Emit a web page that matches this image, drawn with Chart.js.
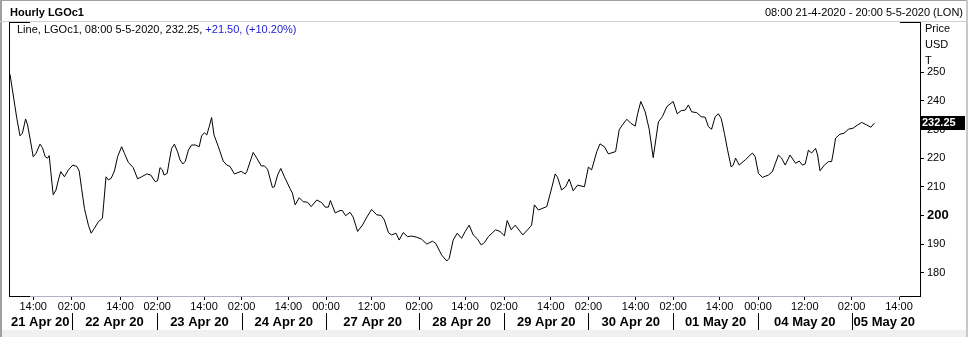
<!DOCTYPE html>
<html>
<head>
<meta charset="utf-8">
<title>Hourly LGOc1</title>
<script src="https://cdn.jsdelivr.net/npm/chart.js@4.4.1/dist/chart.umd.min.js"></script>
<style>
  html, body { margin: 0; padding: 0; background: #fff; }
  #wrap { width: 968px; height: 337px; position: relative; }
</style>
</head>
<body>
<div id="wrap"><canvas id="lgoChart"></canvas></div>
<script>
// hourly bar index (0 = 08:00 21-4-2020) and close price
const barIdx = [
  0, 0.8, 1.7, 2.5, 3.1, 3.9, 4.4, 5.3, 5.8, 6.5,
  7.5, 8.1, 8.8, 9.4, 9.8, 10.2, 10.8, 11.5, 12.1, 12.7,
  13.6, 14.6, 15.7, 16.7, 17.3, 17.9, 18.6, 19.6, 20.3, 21.1,
  22.1, 23.1, 23.4, 24, 24.6, 25.3, 26.1, 26.9, 27.9, 28.6,
  29.6, 30.8, 31.9, 32.9, 34.2, 35.2, 36.3, 36.9, 37.5, 38.1,
  38.5, 39.3, 39.8, 40.4, 41.1, 41.9, 42.5, 43.2, 43.8, 44.6,
  45.4, 46.4, 47.3, 47.9, 48.6, 49.2, 49.8, 50.4, 51, 52.1,
  53.3, 54.2, 55,
  56.1, 57.8, 58.8, 59.2, 60.8, 61.7, 62.8, 63.6, 64.4, 65.6,
  66.1, 66.9, 67.7, 68.6, 70, 70.6, 71.3, 72.3, 73.3, 74.4,
  75.3, 76.7, 77.9, 78.8, 79.6, 80.1, 81.3, 82.5, 83.1, 83.9,
  85, 85.8, 86.9, 88.1, 89.2, 90.4, 91.7, 92.8, 93.6, 94.6,
  95.4, 96.5, 97.3, 98.3, 99.4, 100.4, 101.7, 102.9, 104.2, 105.6,
  106.4, 107.9, 109.2,
  109.8, 110.8, 111.8, 112.9, 113.8, 114.8, 115.8, 116.9, 117.8, 118.6,
  119.6, 121.4, 122.5, 123.6, 124.3, 125.3, 126.3, 128.2, 129.4, 130.4,
  131.1, 132.1, 134.2, 135.3, 136.3, 136.9, 137.9, 138.9, 139.8, 140.8,
  141.9, 143.6, 144.6, 145.4, 146.7, 147.5, 148.6, 149.6, 151.4, 152.3,
  153.1, 154.2, 155.2, 156.3, 156.9, 157.7, 158.8, 159.8, 160.8, 162.1,
  163.1, 164.2,
  165.8, 166.8, 167.8, 168.8, 169.6, 170.4, 171.7, 172.8, 173.8, 174.6,
  175.4, 176.3, 177.1, 177.8, 178.6, 179.4, 180.3, 180.8, 181.4, 182.3,
  183.8, 185.6, 186.3, 187.1, 188.1, 189.6, 190.6, 191.3, 192.1, 192.9,
  193.8, 195, 196.4, 197.3, 198.1, 198.8, 199.6, 200.4, 201.4, 201.9,
  202.5, 203.6, 204.6, 205.4, 205.8, 206.4, 207.5, 208.5, 209.6, 210.8,
  211.9, 212.9, 214.2, 215.2, 216.1
];
const price = [
  249.3, 242.1, 233.9, 227.8, 228.7, 233.7, 231.6, 224.6, 220.5, 221.7,
  224.9, 223.7, 220.5, 220.0, 220.9, 215.3, 207.2, 208.9, 212.4, 215.3,
  213.5, 215.9, 217.6, 217.1, 215.5, 209.4, 202.5, 196.6, 193.8, 195.5,
  197.8, 199.0, 203.7, 213.5, 212.4, 213.0, 215.5, 220.5, 224.0, 221.7,
  218.5, 216.7, 212.8, 213.5, 214.5, 214.1, 211.8, 212.1, 216.7, 215.9,
  214.1, 214.7, 218.8, 223.4, 224.9, 222.2, 219.4, 218.0, 218.8, 222.8,
  224.6, 224.6, 224.0, 227.8, 228.9, 228.1, 231.0, 234.2, 228.1, 224.0,
  219.0, 217.6, 217.1,
  214.5, 215.4, 214.5, 215.3, 222.0, 220.0, 217.3, 217.3, 216.1, 209.8,
  210.0, 214.1, 216.4, 213.5, 209.4, 207.8, 203.7, 206.2, 204.8, 204.6,
  203.1, 205.4, 204.5, 202.9, 202.9, 205.2, 200.9, 201.7, 201.7, 199.9,
  201.1, 199.4, 194.4, 196.6, 199.4, 202.1, 200.2, 200.0, 198.4, 194.0,
  193.2, 193.8, 191.4, 194.0, 192.6, 192.8, 192.4, 191.7, 190.0, 191.0,
  190.3, 186.2, 184.1,
  185.0, 191.4, 193.8, 192.0, 194.4, 196.6, 193.2, 191.7, 189.7, 190.5,
  192.6, 195.0, 194.4, 192.9, 198.2, 195.0, 196.6, 193.2, 195.0, 196.6,
  203.7, 201.9, 203.1, 208.9, 214.5, 213.3, 208.9, 210.0, 212.7, 208.6,
  210.6, 210.0, 216.9, 215.9, 222.3, 225.0, 224.0, 221.5, 222.3, 229.9,
  231.6, 233.6, 232.2, 231.2, 235.5, 239.8, 236.2, 230.1, 220.2, 232.7,
  234.5, 238.0,
  239.8, 235.5, 236.6, 236.8, 238.6, 236.2, 235.9, 234.5, 234.3, 231.0,
  230.1, 234.5, 235.5, 233.9, 228.7, 222.8, 216.9, 217.6, 220.0, 217.6,
  219.4, 221.8, 220.5, 214.7, 213.3, 214.1, 215.3, 218.0, 221.1, 220.0,
  217.6, 221.1, 218.2, 219.0, 217.6, 218.0, 222.8, 221.8, 223.4, 221.1,
  215.6, 217.6, 218.8, 218.8, 221.8, 227.0, 228.4, 228.7, 230.1, 230.5,
  231.6, 232.5, 231.6, 230.8, 232.25
];

// x axis: time ticks (bar index) and their labels
const timeTickIdx = [5.8, 15.4, 27.5, 36.8, 48.5, 57.9, 69.6, 79, 90.4, 102.3, 113.75,
  123.5, 135.2, 144.6, 156.4, 165.8, 177.4, 187, 198.7, 210.4, 222.25];
const timeTickLbl = ['14:00', '02:00', '14:00', '02:00', '14:00', '02:00', '14:00', '00:00', '12:00', '02:00', '14:00',
  '02:00', '14:00', '02:00', '14:00', '02:00', '14:00', '00:00', '12:00', '02:00', '14:00'];
// session separators and day labels
const daySepIdx = [15.4, 36.8, 57.9, 79, 102.3, 123.5, 144.6, 165.8, 187, 210.4];
const dayLbl = ['21 Apr 20', '22 Apr 20', '23 Apr 20', '24 Apr 20', '27 Apr 20', '28 Apr 20',
  '29 Apr 20', '30 Apr 20', '01 May 20', '04 May 20', '05 May 20'];

// y axis
const priceTicks = [180, 190, 200, 210, 220, 230, 240, 250];
const lastPrice = 232.25;

const titleText = 'Hourly LGOc1';
const rangeText = '08:00 21-4-2020 - 20:00 5-5-2020 (LON)';
const legendText = 'Line, LGOc1, 08:00 5-5-2020, 232.25, ';
const legendChange = '+21.50, (+10.20%)';

const FONT = '"Liberation Sans", Arial, sans-serif';
Chart.defaults.font.family = FONT;
Chart.defaults.color = '#000';

// frame, header, day row and last price tag
const decorations = {
  id: 'decorations',
  beforeDraw(chart) {
    const c = chart.ctx;
    c.save();
    c.fillStyle = '#fff';
    c.fillRect(0, 0, chart.width, chart.height);
    c.restore();
  },
  afterDraw(chart) {
    const c = chart.ctx;
    const a = chart.chartArea;
    const xs = chart.scales.x;
    const ys = chart.scales.y;
    c.save();

    // window edges
    c.fillStyle = '#f0f0f0';
    c.fillRect(0, 330, chart.width, 7);
    c.fillStyle = '#a0a0a0';
    c.fillRect(0, 0, 2, chart.height);
    c.fillRect(0, 0, chart.width, 1);
    c.fillStyle = '#c8c8c8';
    c.fillRect(chart.width - 2, 0, 2, chart.height);

    // header
    c.fillStyle = '#000';
    c.textBaseline = 'middle';
    c.font = 'bold 11px ' + FONT;
    c.textAlign = 'left';
    c.fillText(titleText, 10, 13);
    c.font = '11px ' + FONT;
    c.textAlign = 'right';
    c.fillText(rangeText, 963, 13);

    // header separator
    c.fillStyle = '#d0d0d0';
    c.fillRect(0, 21, chart.width, 1);

    // plot frame: left edge and corner brackets
    c.fillStyle = '#b0b0c0';
    c.fillRect(a.left, a.bottom, a.right - a.left, 1);
    c.fillStyle = '#000';
    c.fillRect(a.left, a.top, 1, a.bottom - a.top + 1);
    c.fillRect(a.left, a.top, 21, 1);
    c.fillRect(a.right - 20, a.top, 20, 1);
    c.fillRect(a.left, a.bottom, 21, 1);
    c.fillRect(a.right - 20, a.bottom, 20, 1);

    // legend line
    c.textAlign = 'left';
    c.font = '11px ' + FONT;
    c.fillStyle = '#000';
    c.fillText(legendText, 17, 30);
    const w = c.measureText(legendText).width;
    c.fillStyle = '#1c1cd8';
    c.fillText(legendChange, 17 + w, 30);

    // axis caption
    c.fillStyle = '#000';
    c.fillText('Price', 925, 29);
    c.fillText('USD', 925, 45);
    c.fillText('T', 925, 61);

    // day separators and labels
    c.fillStyle = '#000';
    daySepIdx.forEach(v => {
      const px = Math.round(xs.getPixelForValue(v));
      c.fillRect(px, 313, 1, 17);
    });
    c.font = 'bold 13px ' + FONT;
    const bounds = [a.left].concat(daySepIdx.map(v => xs.getPixelForValue(v)));
    dayLbl.forEach((lbl, i) => {
      if (i === dayLbl.length - 1) {
        c.textAlign = 'left';
        c.fillText(lbl, bounds[i] + 2, 322);
      } else {
        c.textAlign = 'center';
        c.fillText(lbl, (bounds[i] + bounds[i + 1]) / 2, 322);
      }
    });

    // last price tag
    const py = ys.getPixelForValue(lastPrice);
    c.fillStyle = '#000';
    c.fillRect(a.right + 1, Math.round(py) - 7, 44, 14);
    c.fillStyle = '#fff';
    c.font = 'bold 11px ' + FONT;
    c.textAlign = 'left';
    c.fillText(lastPrice.toFixed(2), a.right + 2, Math.round(py));

    c.restore();
  }
};

const ctx = document.getElementById('lgoChart').getContext('2d');
const lgoChart = new Chart(ctx, {
  type: 'line',
  data: {
    datasets: [{
      label: 'LGOc1',
      data: barIdx.map((b, i) => ({ x: b, y: price[i] })),
      borderColor: '#000',
      borderWidth: 1,
      pointRadius: 0,
      tension: 0,
      fill: false
    }]
  },
  options: {
    responsive: true,
    maintainAspectRatio: false,
    devicePixelRatio: 1,
    animation: false,
    layout: { padding: { left: 9, top: 22, right: 0, bottom: 0 } },
    plugins: {
      legend: { display: false },
      tooltip: { enabled: false }
    },
    scales: {
      x: {
        type: 'linear',
        min: -0.25,
        max: 227.5,
        afterBuildTicks: s => { s.ticks = timeTickIdx.map(v => ({ value: v })); },
        afterFit: s => { s.height = 41; },
        ticks: {
          autoSkip: false,
          maxRotation: 0,
          padding: 0,
          color: '#000',
          font: { size: 11 },
          callback: (v, i) => timeTickLbl[i]
        },
        grid: { drawOnChartArea: false, drawTicks: true, tickLength: 4, color: '#000' },
        border: { display: false }
      },
      y: {
        position: 'right',
        min: 171.86,
        max: 267.57,
        afterBuildTicks: s => { s.ticks = priceTicks.map(v => ({ value: v })); },
        afterFit: s => { s.width = 48; },
        ticks: {
          padding: 3,
          color: '#000',
          font: c => (c.tick && c.tick.value === 200) ? { size: 13, weight: 'bold' } : { size: 11 },
          callback: v => String(v)
        },
        grid: { drawOnChartArea: false, drawTicks: true, tickLength: 4, color: '#000' },
        border: { display: true, color: '#000', width: 1 }
      }
    }
  },
  plugins: [decorations]
});
</script>
</body>
</html>
